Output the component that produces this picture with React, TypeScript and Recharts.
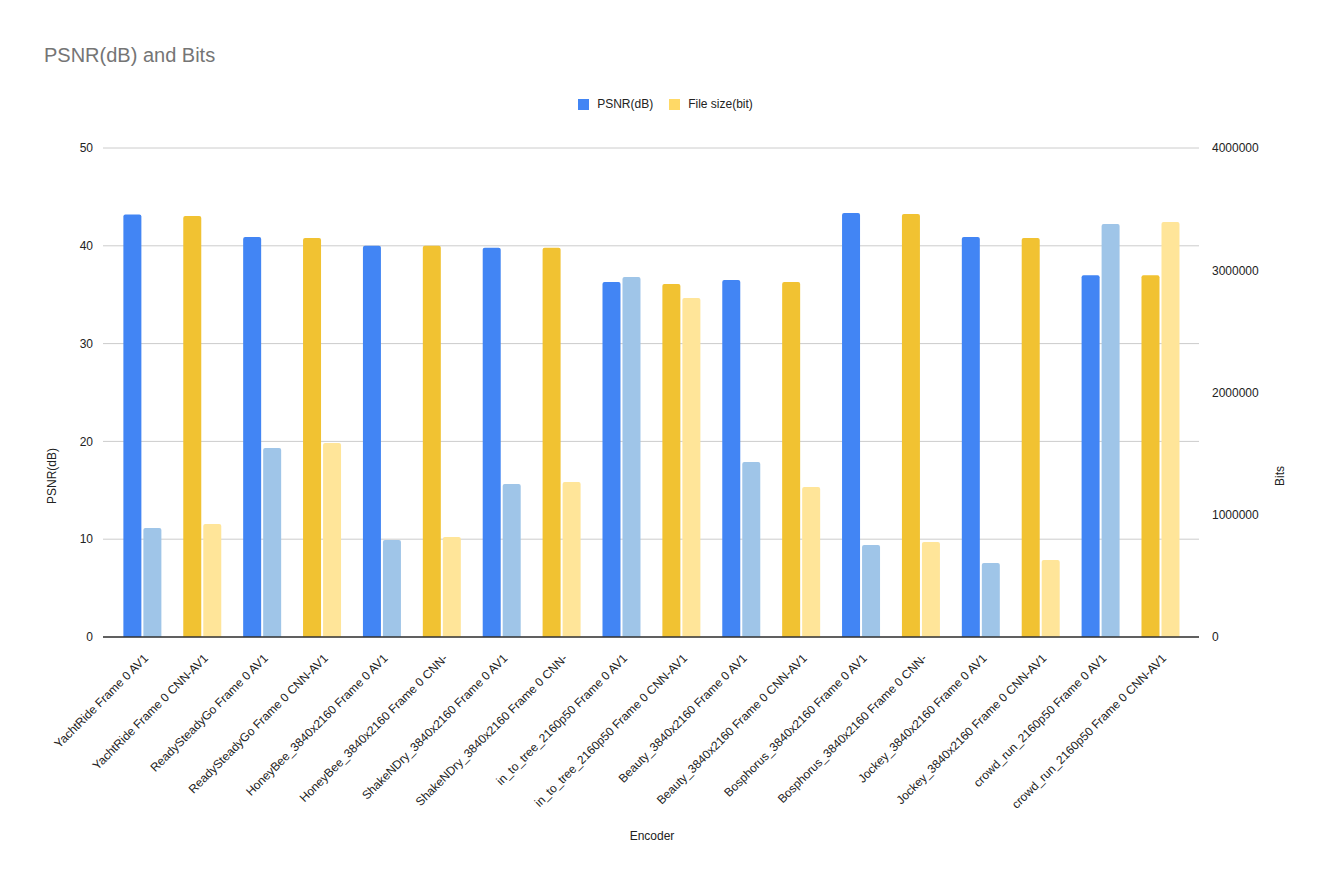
import React from 'react';
import { BarChart, Bar, XAxis, YAxis, CartesianGrid, Legend, Cell } from 'recharts';

const encoders = [
  'YachtRide Frame 0 AV1',
  'YachtRide Frame 0 CNN-AV1',
  'ReadySteadyGo Frame 0 AV1',
  'ReadySteadyGo Frame 0 CNN-AV1',
  'HoneyBee_3840x2160 Frame 0 AV1',
  'HoneyBee_3840x2160 Frame 0 CNN-',
  'ShakeNDry_3840x2160 Frame 0 AV1',
  'ShakeNDry_3840x2160 Frame 0 CNN-',
  'in_to_tree_2160p50 Frame 0 AV1',
  'in_to_tree_2160p50 Frame 0 CNN-AV1',
  'Beauty_3840x2160 Frame 0 AV1',
  'Beauty_3840x2160 Frame 0 CNN-AV1',
  'Bosphorus_3840x2160 Frame 0 AV1',
  'Bosphorus_3840x2160 Frame 0 CNN-',
  'Jockey_3840x2160 Frame 0 AV1',
  'Jockey_3840x2160 Frame 0 CNN-AV1',
  'crowd_run_2160p50 Frame 0 AV1',
  'crowd_run_2160p50 Frame 0 CNN-AV1',
];

const psnr = [43.2, 43.05, 40.9, 40.8, 40.0, 40.0, 39.8, 39.8, 36.3, 36.1, 36.5, 36.3, 43.35, 43.25, 40.9, 40.8, 37.0, 37.0];

const fileSize = [892000, 924000, 1546000, 1587000, 793000, 818000, 1252000, 1268000, 2945000, 2773000, 1431000, 1227000, 753000, 777000, 605000, 630000, 3378000, 3395000];

const leftTicks = [0, 10, 20, 30, 40, 50];
const rightTicks = [0, 1000000, 2000000, 3000000, 4000000];

const data = encoders.map((name, i) => ({ name, psnr: psnr[i], bits: fileSize[i] }));

const isCnn = (name: string) => name.includes('CNN');

const font = '"Liberation Sans", Arial, sans-serif';

function XTick({ x, y, payload }: any) {
  const ax = x + 7;
  const ay = y + 14;
  return (
    <text
      x={ax}
      y={ay}
      textAnchor="end"
      fontSize={12}
      fontFamily={font}
      fill="#222"
      transform={`rotate(-45, ${ax}, ${ay})`}
    >
      {payload.value}
    </text>
  );
}

function LegendBox() {
  const items = [
    { label: 'PSNR(dB)', color: '#4285F4' },
    { label: 'File size(bit)', color: '#FFD966' },
  ];
  return (
    <div style={{ display: 'flex', justifyContent: 'center', gap: 16, fontFamily: font, fontSize: 12, color: '#222' }}>
      {items.map((it) => (
        <div key={it.label} style={{ display: 'flex', alignItems: 'center', gap: 8 }}>
          <span style={{ width: 11, height: 11, background: it.color, display: 'inline-block' }} />
          {it.label}
        </div>
      ))}
    </div>
  );
}

export default function App() {
  return (
    <div style={{ position: 'absolute', left: 0, top: 0, width: 1331, height: 887, background: '#fff' }}>
      <div style={{ position: 'absolute', left: 44, top: 44, fontFamily: font, fontSize: 20, color: '#757575' }}>
        PSNR(dB) and Bits
      </div>
      <BarChart
        width={1331}
        height={887}
        data={data}
        margin={{ top: 148, right: 52, bottom: 50, left: 43 }}
        barCategoryGap="19%"
        barGap={2}
      >
        <CartesianGrid yAxisId="left" vertical={false} stroke="#cccccc" />
        <XAxis
          dataKey="name"
          interval={0}
          height={200}
          padding={{ left: 9, right: 9 }}
          tick={<XTick />}
          tickLine={false}
          axisLine={{ stroke: '#333', strokeWidth: 1.5 }}
          label={{
            content: () => (
              <text x={652} y={840} textAnchor="middle" fontSize={12} fontFamily={font} fill="#222">
                Encoder
              </text>
            ),
          }}
        />
        <YAxis
          yAxisId="left"
          width={60}
          domain={[0, 50]}
          ticks={leftTicks}
          tickLine={false}
          axisLine={false}
          tick={{ fontSize: 12, fontFamily: font, fill: '#222' }}
          tickMargin={4}
          label={{
            content: () => (
              <text
                x={56}
                y={476}
                textAnchor="middle"
                fontSize={12}
                fontFamily={font}
                fill="#222"
                transform="rotate(-90, 56, 476)"
              >
                PSNR(dB)
              </text>
            ),
          }}
        />
        <YAxis
          yAxisId="right"
          orientation="right"
          width={80}
          domain={[0, 4000000]}
          ticks={rightTicks}
          tickLine={false}
          axisLine={false}
          tick={{ fontSize: 12, fontFamily: font, fill: '#222' }}
          tickMargin={7}
          label={{
            content: () => (
              <text
                x={1284}
                y={476}
                textAnchor="middle"
                fontSize={12}
                fontFamily={font}
                fill="#222"
                transform="rotate(-90, 1284, 476)"
              >
                Bits
              </text>
            ),
          }}
        />
        <Legend
          layout="horizontal"
          verticalAlign="middle"
          wrapperStyle={{ top: 97, left: 0, width: 1331 }}
          content={() => <LegendBox />}
        />
        <Bar yAxisId="left" dataKey="psnr" name="PSNR(dB)" radius={[2, 2, 0, 0]} isAnimationActive={false}>
          {data.map((d) => (
            <Cell key={d.name} fill={isCnn(d.name) ? '#F1C232' : '#4285F4'} />
          ))}
        </Bar>
        <Bar yAxisId="right" dataKey="bits" name="File size(bit)" radius={[2, 2, 0, 0]} isAnimationActive={false}>
          {data.map((d) => (
            <Cell key={d.name} fill={isCnn(d.name) ? '#FFE599' : '#9FC5E8'} />
          ))}
        </Bar>
      </BarChart>
    </div>
  );
}
